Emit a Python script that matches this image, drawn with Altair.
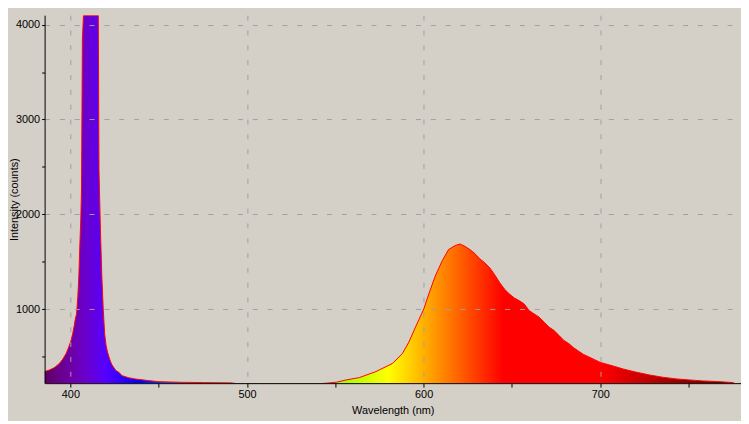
import altair as alt
import pandas as pd

# ---- data ----
WAVELENGTH_NM = [
    385.4, 388.2, 391.0, 393.8, 395.7, 397.6, 398.9, 400.4, 401.3, 402.2,
    402.8, 403.5, 404.2, 404.8, 405.4, 405.9, 406.3, 406.8, 407.4,
    415.8, 416.2, 417.0, 417.8, 418.6, 419.4, 420.2, 421.0, 421.9, 422.8,
    423.7, 425.6, 427.4, 429.3, 433.0, 436.8, 444.2, 449.8, 462.9, 476.0,
    490.9, 495.0, 520.0, 540.0, 545.0,
    550.6, 556.2, 563.7, 573.0, 582.4, 588.0, 591.7, 595.4, 600.1, 602.9,
    606.6, 610.4, 614.1, 617.8, 620.6, 623.4, 626.2, 629.0, 631.8, 634.6,
    637.4, 640.2, 643.0, 645.8, 648.6, 651.4, 654.2, 657.0, 659.8, 662.6,
    665.4, 668.2, 671.0, 673.8, 676.6, 679.4, 682.2, 685.0, 687.8, 690.6,
    693.4, 696.2, 700.0, 707.4, 713.0, 720.5, 728.0, 735.4, 742.9, 750.4,
    757.8, 765.3, 774.6, 775.6,
]
COUNTS = [
    343, 360, 385, 429, 474, 534, 593, 672, 742, 829,
    899, 951, 1130, 1350, 1700, 1950, 2270, 3840, 4095,
    4095, 2460, 1840, 1350, 1000, 740, 620, 550, 495, 445,
    410, 358, 335, 300, 278, 265, 248, 237, 230, 227,
    224, 214, 212, 214, 221,
    231, 255, 280, 343, 429, 534, 656, 812, 1003, 1160,
    1350, 1507, 1629, 1671, 1688, 1663, 1629, 1587, 1532, 1490,
    1438, 1365, 1282, 1212, 1160, 1118, 1090, 1055, 985, 951,
    917, 864, 812, 777, 725, 672, 638, 593, 558, 523,
    499, 474, 440, 401, 370, 336, 307, 283, 266, 255,
    245, 239, 228, 226,
]

X_TICKS = [400, 450, 500, 550, 600, 650, 700, 750]
Y_TICKS = [500, 1000, 1500, 2000, 2500, 3000, 3500, 4000]
X_DOMAIN = [385.4, 779.7]
Y_DOMAIN = [221, 4100]

# spectral colour stops (wavelength nm -> colour)
STOP_NM = [385, 390, 400, 410, 420, 440, 490, 510, 580, 645, 700, 780]
STOP_COLORS = ["#5b0063", "#650079", "#6e00a6", "#6900d2", "#5500ff", "#0000ff",
               "#00ffff", "#00ff00", "#ffff00", "#ff0000", "#ff0000", "#4d0000"]

BG = "#D4D0C8"
FONT = "Liberation Sans"

df = pd.DataFrame({"wl": WAVELENGTH_NM, "counts": COUNTS})

wmin, wmax = min(WAVELENGTH_NM), max(WAVELENGTH_NM)
stops = []
for nm, c in zip(STOP_NM, STOP_COLORS):
    off = (nm - wmin) / (wmax - wmin)
    off = min(1.0, max(0.0, off))
    stops.append(alt.GradientStop(color=c, offset=off))

gradient = alt.Gradient(gradient="linear", stops=stops, x1=0, x2=1, y1=0, y2=0)

x_axis = alt.Axis(
    values=X_TICKS, format="d",
    labelExpr="datum.value % 100 === 0 ? datum.label : ''",
    grid=True, gridColor="#a0a0a0", gridDash=[5, 10], gridWidth=1,
    gridOpacity={"condition": {"test": "datum.value % 100 === 0", "value": 1}, "value": 0},
    tickSize=4, tickColor="black", domainColor="black", domainWidth=1,
    labelFont=FONT, labelFontSize=11, labelColor="black", labelPadding=2,
    title="Wavelength (nm)", titleFont=FONT, titleFontSize=11, titleFontWeight="normal",
    titleColor="black", titleY=31, titleBaseline="alphabetic",
    labelOverlap=False, zindex=1,
)
y_axis = alt.Axis(
    values=Y_TICKS, format="d",
    labelExpr="datum.value % 1000 === 0 ? datum.label : ''",
    grid=True, gridColor="#a0a0a0", gridDash=[5, 10], gridWidth=1,
    gridOpacity={"condition": {"test": "datum.value % 1000 === 0", "value": 1}, "value": 0},
    tickSize=3, tickColor="black", domainColor="black", domainWidth=1,
    labelFont=FONT, labelFontSize=11, labelColor="black", labelPadding=2,
    title="Intensity (counts)", titleFont=FONT, titleFontSize=11, titleFontWeight="normal",
    titleColor="black", titleX=-27, titleBaseline="alphabetic",
    labelOverlap=False, zindex=1,
)

base = alt.Chart(df).encode(
    x=alt.X("wl:Q", scale=alt.Scale(domain=X_DOMAIN, nice=False, zero=False), axis=x_axis),
    y=alt.Y("counts:Q", scale=alt.Scale(domain=Y_DOMAIN, nice=False, zero=False), axis=y_axis),
)

area = base.mark_area(color=gradient, clip=True, interpolate="linear").encode(
    y2=alt.datum(Y_DOMAIN[0])
)
line = base.mark_line(color="#ff0000", strokeWidth=1, clip=True, interpolate="linear")

chart = (
    alt.layer(area, line)
    .properties(
        width=704, height=372,
        background=BG,
        autosize=alt.AutoSizeParams(type="none"),
        padding={"left": 37, "top": 5, "right": 0, "bottom": 36},
    )
    .configure_view(strokeWidth=0, fill=BG)
)

chart.save("out.html", embed_options={"renderer": "svg", "actions": False})
